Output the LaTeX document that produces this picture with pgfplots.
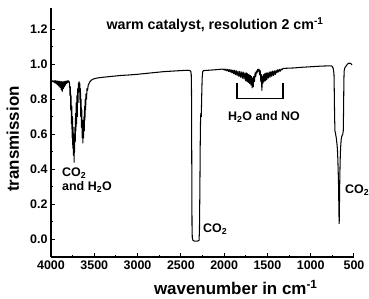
\documentclass[border=0pt]{standalone}
\usepackage{fontspec}
\setmainfont{Liberation Sans}
\usepackage{pgfplots}
\pgfplotsset{compat=1.18}
\begin{document}
\begin{tikzpicture}
\useasboundingbox (-51bp,-42bp) rectangle (318bp,257bp);
\begin{axis}[
  scale only axis, width=303bp, height=249bp,
  xmin=500, xmax=4000, x dir=reverse, ymin=-0.1, ymax=1.32,
  axis x line=bottom, axis y line=left,
  axis line style={-, line width=1.4pt},
  tick align=inside, major tick length=4bp, minor tick length=2.5bp,
  tick style={line width=1pt, black},
  xtick={500,1000,1500,2000,2500,3000,3500,4000}, minor x tick num=1,
  ytick={0,0.2,0.4,0.6,0.8,1.0,1.2}, minor y tick num=1,
  /pgf/number format/assume math mode=true,
  x tick label style={font=\fontsize{12.5}{14}\selectfont\bfseries, /pgf/number format/1000 sep={}},
  y tick label style={font=\fontsize{12.5}{14}\selectfont\bfseries, /pgf/number format/fixed, /pgf/number format/fixed zerofill, /pgf/number format/precision=1},
  xlabel={wavenumber in cm\textsuperscript{-1}},
  ylabel={transmission},
  xlabel style={at={(axis description cs:0.61,-0.124)}, anchor=center, font=\fontsize{17}{19}\selectfont\bfseries},
  ylabel style={at={(axis description cs:-0.126,0.474)}, anchor=center, font=\fontsize{17}{19}\selectfont\bfseries},
  clip=false,
]
\addplot[black, line width=1.05pt, line join=round] coordinates {
(4000,0.905) (3990,0.900) (3980,0.905) (3970,0.898) (3962,0.905) (3955,0.893) (3948,0.905) (3940,0.888) (3932,0.904) (3925,0.882) (3918,0.903) (3910,0.875) (3903,0.902) (3896,0.868) (3889,0.900) (3882,0.855) (3876,0.900) (3870,0.845) (3864,0.898) (3858,0.860) (3852,0.900) (3846,0.870) (3840,0.902) (3833,0.880) (3826,0.903) (3819,0.890) (3812,0.905) (3805,0.895) (3798,0.905) (3790,0.900)
(3784,0.88) (3780,0.82) (3776,0.87) (3772,0.74) (3768,0.82) (3764,0.66) (3760,0.76) (3756,0.58) (3752,0.70) (3748,0.52) (3744,0.64) (3740,0.48) (3736,0.60) (3733,0.44) (3730,0.56) (3727,0.50) (3724,0.64) (3720,0.56) (3716,0.72) (3712,0.62) (3708,0.78) (3704,0.66) (3700,0.82) (3696,0.70) (3692,0.86) (3688,0.78) (3684,0.89) (3680,0.84) (3676,0.90) (3672,0.86) (3668,0.89) (3664,0.78) (3660,0.86) (3656,0.70) (3652,0.80) (3648,0.64) (3644,0.74) (3640,0.58) (3636,0.68) (3632,0.55) (3628,0.64) (3624,0.58) (3620,0.70) (3616,0.62) (3612,0.76) (3608,0.68) (3604,0.80) (3600,0.74) (3596,0.83) (3590,0.80) (3584,0.86) (3578,0.85) (3570,0.88) (3560,0.89) (3550,0.90) (3530,0.91) (3500,0.917) (3450,0.922) (3400,0.925) (3300,0.930) (3200,0.935) (3100,0.938) (3000,0.942) (2900,0.947) (2800,0.952) (2700,0.957) (2600,0.960) (2500,0.963) (2420,0.965)
(2395,0.963) (2385,0.958) (2380,0.94) (2377,0.85) (2375,0.60) (2373,0.30) (2371,0.08) (2368,0.01) (2360,-0.005) (2340,-0.01) (2320,-0.01) (2300,-0.008) (2290,-0.005) (2285,0.05) (2280,0.30) (2276,0.55) (2272,0.70) (2268,0.72) (2264,0.70) (2260,0.80) (2254,0.92) (2248,0.955) (2240,0.963)
(2150,0.966) (2050,0.970) (2020,0.972)
(2010,0.968) (2000,0.972) (1990,0.965) (1980,0.971) (1970,0.962) (1960,0.970) (1950,0.958) (1940,0.969) (1930,0.955) (1920,0.968) (1910,0.950) (1900,0.966) (1890,0.945) (1880,0.965) (1870,0.940) (1860,0.962) (1850,0.935) (1840,0.960) (1830,0.930) (1820,0.958) (1810,0.925) (1800,0.955) (1790,0.920) (1780,0.955) (1770,0.915) (1760,0.950) (1750,0.905) (1742,0.950) (1735,0.900) (1728,0.945) (1720,0.895) (1712,0.940) (1705,0.890) (1698,0.935) (1690,0.880) (1684,0.930) (1676,0.865) (1670,0.920) (1664,0.870) (1658,0.930) (1650,0.900) (1642,0.950) (1635,0.930) (1628,0.960) (1620,0.950) (1612,0.970) (1605,0.960) (1598,0.972) (1590,0.940) (1584,0.965) (1576,0.900) (1570,0.940) (1564,0.850) (1558,0.930) (1552,0.890) (1546,0.940) (1540,0.900) (1532,0.945) (1524,0.905) (1516,0.950) (1508,0.910) (1500,0.950) (1490,0.920) (1480,0.955) (1470,0.925) (1460,0.958) (1450,0.930) (1440,0.960) (1430,0.935) (1420,0.962) (1410,0.940) (1400,0.965) (1390,0.950) (1380,0.968) (1370,0.955) (1360,0.970) (1350,0.960) (1340,0.972) (1330,0.968) (1320,0.975)
(1300,0.976) (1200,0.978) (1100,0.982) (1000,0.985) (900,0.988) (800,0.990) (760,0.990) (750,0.986) (742,0.978) (736,0.965) (731,0.94) (728,0.85) (724,0.70) (720,0.62) (712,0.60) (705,0.58) (698,0.55) (692,0.52) (686,0.45) (682,0.38) (678,0.30) (674,0.15) (671,0.09) (668,0.20) (664,0.35) (660,0.45) (655,0.52) (648,0.57) (640,0.59) (630,0.60) (624,0.62) (620,0.75) (617,0.90) (614,0.96) (605,0.98) (590,0.99) (575,1.00) (560,1.005) (545,1.005) (530,1.00) (525,0.995)
};
\node[font=\fontsize{14.3}{16}\selectfont\bfseries] at (axis cs:2106,1.223) {warm catalyst, resolution 2 cm\textsuperscript{-1}};
\node[font=\fontsize{12.5}{14}\selectfont\bfseries, align=left, anchor=west, inner sep=0pt] at (axis cs:3873,0.34) {CO\textsubscript{2}\\and H\textsubscript{2}O};
\node[font=\fontsize{12.5}{14}\selectfont\bfseries, anchor=west, inner sep=0pt] at (axis cs:2245,0.057) {CO\textsubscript{2}};
\node[font=\fontsize{12.5}{14}\selectfont\bfseries, anchor=west, inner sep=0pt] at (axis cs:605,0.28) {CO\textsubscript{2}};
\node[font=\fontsize{12.5}{14}\selectfont\bfseries] at (axis cs:1540,0.697) {H\textsubscript{2}O and NO};
\draw[line width=1.2pt] (axis cs:1852,0.89) -- (axis cs:1852,0.806) -- (axis cs:1321,0.806) -- (axis cs:1321,0.89);
\end{axis}
\end{tikzpicture}
\end{document}
